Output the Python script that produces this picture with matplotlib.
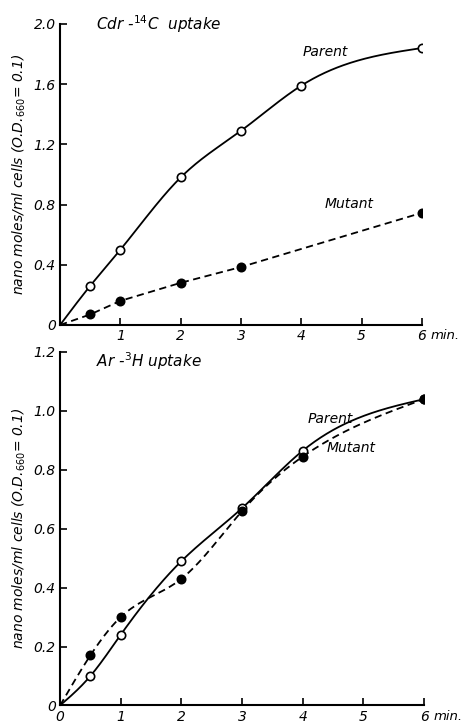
import matplotlib.pyplot as plt
import numpy as np

# data
t_cdr_parent = [0, 0.5, 1, 2, 3, 4, 6]
cdr_parent = [0, 0.26, 0.50, 0.98, 1.29, 1.59, 1.84]
t_cdr_mutant = [0, 0.5, 1, 2, 3, 6]
cdr_mutant = [0, 0.07, 0.16, 0.28, 0.385, 0.745]

t_ar_parent = [0, 0.5, 1, 2, 3, 4, 6]
ar_parent = [0, 0.10, 0.24, 0.49, 0.67, 0.865, 1.04]
t_ar_mutant = [0, 0.5, 1, 2, 3, 4, 6]
ar_mutant = [0, 0.17, 0.30, 0.43, 0.66, 0.845, 1.04]

ylabel = 'nano moles/ml cells (O.D.$_{660}$= 0.1)'


def spline(x, y, n=300):
    # natural cubic spline through the measured points
    x = np.asarray(x, float)
    y = np.asarray(y, float)
    k = len(x)
    h = np.diff(x)
    A = np.zeros((k, k))
    b = np.zeros(k)
    A[0, 0] = A[-1, -1] = 1
    for i in range(1, k - 1):
        A[i, i - 1] = h[i - 1]
        A[i, i] = 2 * (h[i - 1] + h[i])
        A[i, i + 1] = h[i]
        b[i] = 6 * ((y[i + 1] - y[i]) / h[i] - (y[i] - y[i - 1]) / h[i - 1])
    M = np.linalg.solve(A, b)
    xs = np.linspace(x[0], x[-1], n)
    j = np.clip(np.searchsorted(x, xs) - 1, 0, k - 2)
    a = x[j + 1] - xs
    c = xs - x[j]
    hj = h[j]
    ys = (M[j] * a**3 / (6 * hj) + M[j + 1] * c**3 / (6 * hj)
          + (y[j] / hj - M[j] * hj / 6) * a + (y[j + 1] / hj - M[j + 1] * hj / 6) * c)
    return xs, ys


def series(ax, t, v, filled, dashed, smooth=True):
    if smooth:
        xs, ys = spline(t, v)
    else:
        xs, ys = t, v
    ax.plot(xs, ys, color='black', lw=1.3, ls=(0, (4, 2.5)) if dashed else '-', zorder=2)
    ax.plot(t[1:], v[1:], 'o', ms=6, mec='black', mew=1.2,
            mfc='black' if filled else 'white', zorder=3)


def style(ax, ymax, ystep, xlabels, ylabels):
    for s in ['top', 'right']:
        ax.spines[s].set_visible(False)
    for s in ['left', 'bottom']:
        ax.spines[s].set_linewidth(1.5)
    ax.set_xlim(0, 6)
    ax.set_ylim(0, ymax)
    ax.set_xticks(range(0, 7))
    ax.set_xticklabels(xlabels)
    ax.set_yticks(np.arange(0, ymax + 1e-9, ystep))
    ax.set_yticklabels(ylabels)
    ax.tick_params(direction='in', length=5, width=1.2, labelsize=10, pad=3)
    for lab in ax.get_xticklabels() + ax.get_yticklabels():
        lab.set_fontstyle('italic')
    ax.set_ylabel(ylabel, fontsize=10, fontstyle='italic', labelpad=4)
    ax.annotate('min.', xy=(6, 0), xycoords='data', xytext=(6.5, -3),
                textcoords='offset points', fontsize=9.5, fontstyle='italic',
                va='top', ha='left')


plt.rcParams['font.family'] = ['DejaVu Sans']
fig = plt.figure(figsize=(4.62, 7.28), dpi=100)

ax1 = fig.add_axes([0.130, 0.5536, 0.783, 0.4135])
ax1.patch.set_visible(False)
series(ax1, t_cdr_parent, cdr_parent, False, False)
series(ax1, t_cdr_mutant, cdr_mutant, True, True, smooth=False)
style(ax1, 2.0, 0.4, ['', '1', '2', '3', '4', '5', '6'],
      ['0', '0.4', '0.8', '1.2', '1.6', '2.0'])
ax1.text(0.6, 2.0, 'Cdr -$^{14}$C  uptake', fontsize=11, fontstyle='italic', va='center')
ax1.text(4.4, 1.79, 'Parent', fontsize=10, fontstyle='italic', ha='center')
ax1.text(4.8, 0.78, 'Mutant', fontsize=10, fontstyle='italic', ha='center')

ax2 = fig.add_axes([0.130, 0.031, 0.788, 0.4855])
ax2.patch.set_visible(False)
series(ax2, t_ar_parent, ar_parent, False, False)
series(ax2, t_ar_mutant, ar_mutant, True, True)
style(ax2, 1.2, 0.2, ['0', '1', '2', '3', '4', '5', '6'],
      ['0', '0.2', '0.4', '0.6', '0.8', '1.0', '1.2'])
ax2.text(0.6, 1.17, 'Ar -$^{3}$H uptake', fontsize=11, fontstyle='italic', va='center')
ax2.text(4.45, 0.96, 'Parent', fontsize=10, fontstyle='italic', ha='center')
ax2.text(4.8, 0.86, 'Mutant', fontsize=10, fontstyle='italic', ha='center')

fig.savefig('out.png', dpi=100)
